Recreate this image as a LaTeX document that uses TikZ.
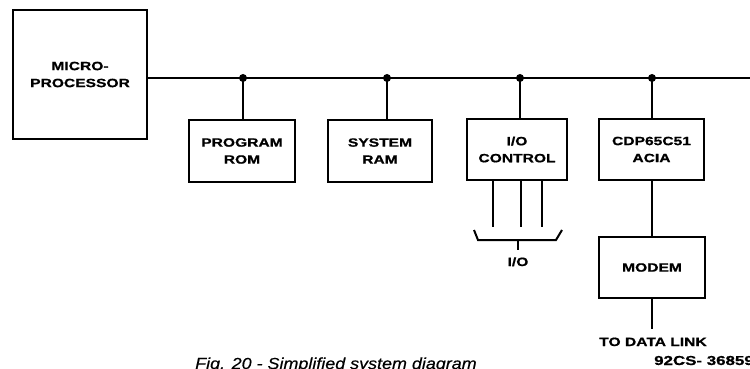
\documentclass[tikz,border=0pt]{standalone}
\usepackage{fontspec}
\newfontfamily\lbl[FakeStretch=1.3,FakeBold=0.8]{Liberation Sans Bold}
\newfontfamily\capfont[FakeStretch=1.12,FakeBold=0.4]{Liberation Sans Italic}
\begin{document}
\begin{tikzpicture}[x=1pt,y=-1pt,
  blk/.style={draw, line width=2pt, inner sep=0pt, align=center,
    font=\lbl\fontsize{12}{17}\selectfont},
  txt/.style={inner sep=0pt, font=\lbl\fontsize{12}{17}\selectfont},
  jdot/.style={circle, fill, inner sep=0pt, minimum size=8pt},
  wire/.style={line width=2pt}]
\clip (0,0) rectangle (750,369);
\useasboundingbox (0,0) rectangle (750,369);
% blocks
\node[blk, minimum width=134pt, minimum height=129pt] (mp) at (80,74.5) {MICRO-\\PROCESSOR};
\node[blk, minimum width=106pt, minimum height=62pt] (rom) at (242,151) {PROGRAM\\ROM};
\node[blk, minimum width=104pt, minimum height=62pt] (ram) at (380,151) {SYSTEM\\RAM};
\node[blk, minimum width=100pt, minimum height=61pt] (io) at (517,149.5) {I/O\\CONTROL};
\node[blk, minimum width=105pt, minimum height=61pt] (acia) at (651.5,149.5) {CDP65C51\\ACIA};
\node[blk, minimum width=106pt, minimum height=61pt] (modem) at (652,267.5) {MODEM};
% junctions
\node[jdot] (d1) at (243,78) {};
\node[jdot] (d2) at (387,78) {};
\node[jdot] (d3) at (520,78) {};
\node[jdot] (d4) at (652,78) {};
\coordinate (busend) at (750,78);
% bus
\draw[wire] (mp.east |- d1) -- (busend);
\draw[wire] (d1.center) -- (rom.north -| d1);
\draw[wire] (d2.center) -- (ram.north -| d2);
\draw[wire] (d3.center) -- (io.north -| d3);
\draw[wire] (d4.center) -- (acia.north -| d4);
\draw[wire] (acia.south -| d4) -- (modem.north -| d4);
% I/O lines
\coordinate (io1) at (493,227);
\coordinate (io2) at (521,227);
\coordinate (io3) at (542,227);
\draw[wire] (io.south -| io1) -- (io1);
\draw[wire] (io.south -| io2) -- (io2);
\draw[wire] (io.south -| io3) -- (io3);
% brace
\coordinate (b1) at (474,230);
\coordinate (b2) at (478,240);
\coordinate (b3) at (556,240);
\coordinate (b4) at (562,230);
\coordinate (bt) at (518,240);
\coordinate (bte) at (518,250);
\draw[wire] (b1) -- (b2) -- (b3) -- (b4);
\draw[wire] (bt) -- (bte);
\node[txt, anchor=base] (iol) at (518,266) {I/O};
% data link
\coordinate (dl) at (652,329);
\draw[wire] (modem.south -| dl) -- (dl);
\node[txt, anchor=base] (tdl) at (653,346) {TO DATA LINK};
\node[txt, anchor=base west, font=\lbl\fontsize{13}{15}\selectfont] (code) at (654,365) {92CS- 36859};
% caption
\node[inner sep=0pt, anchor=base west, font=\capfont\fontsize{16}{18}\selectfont] (cap) at (195,369) {Fig. 20 - Simplified system diagram};
\end{tikzpicture}
\end{document}
